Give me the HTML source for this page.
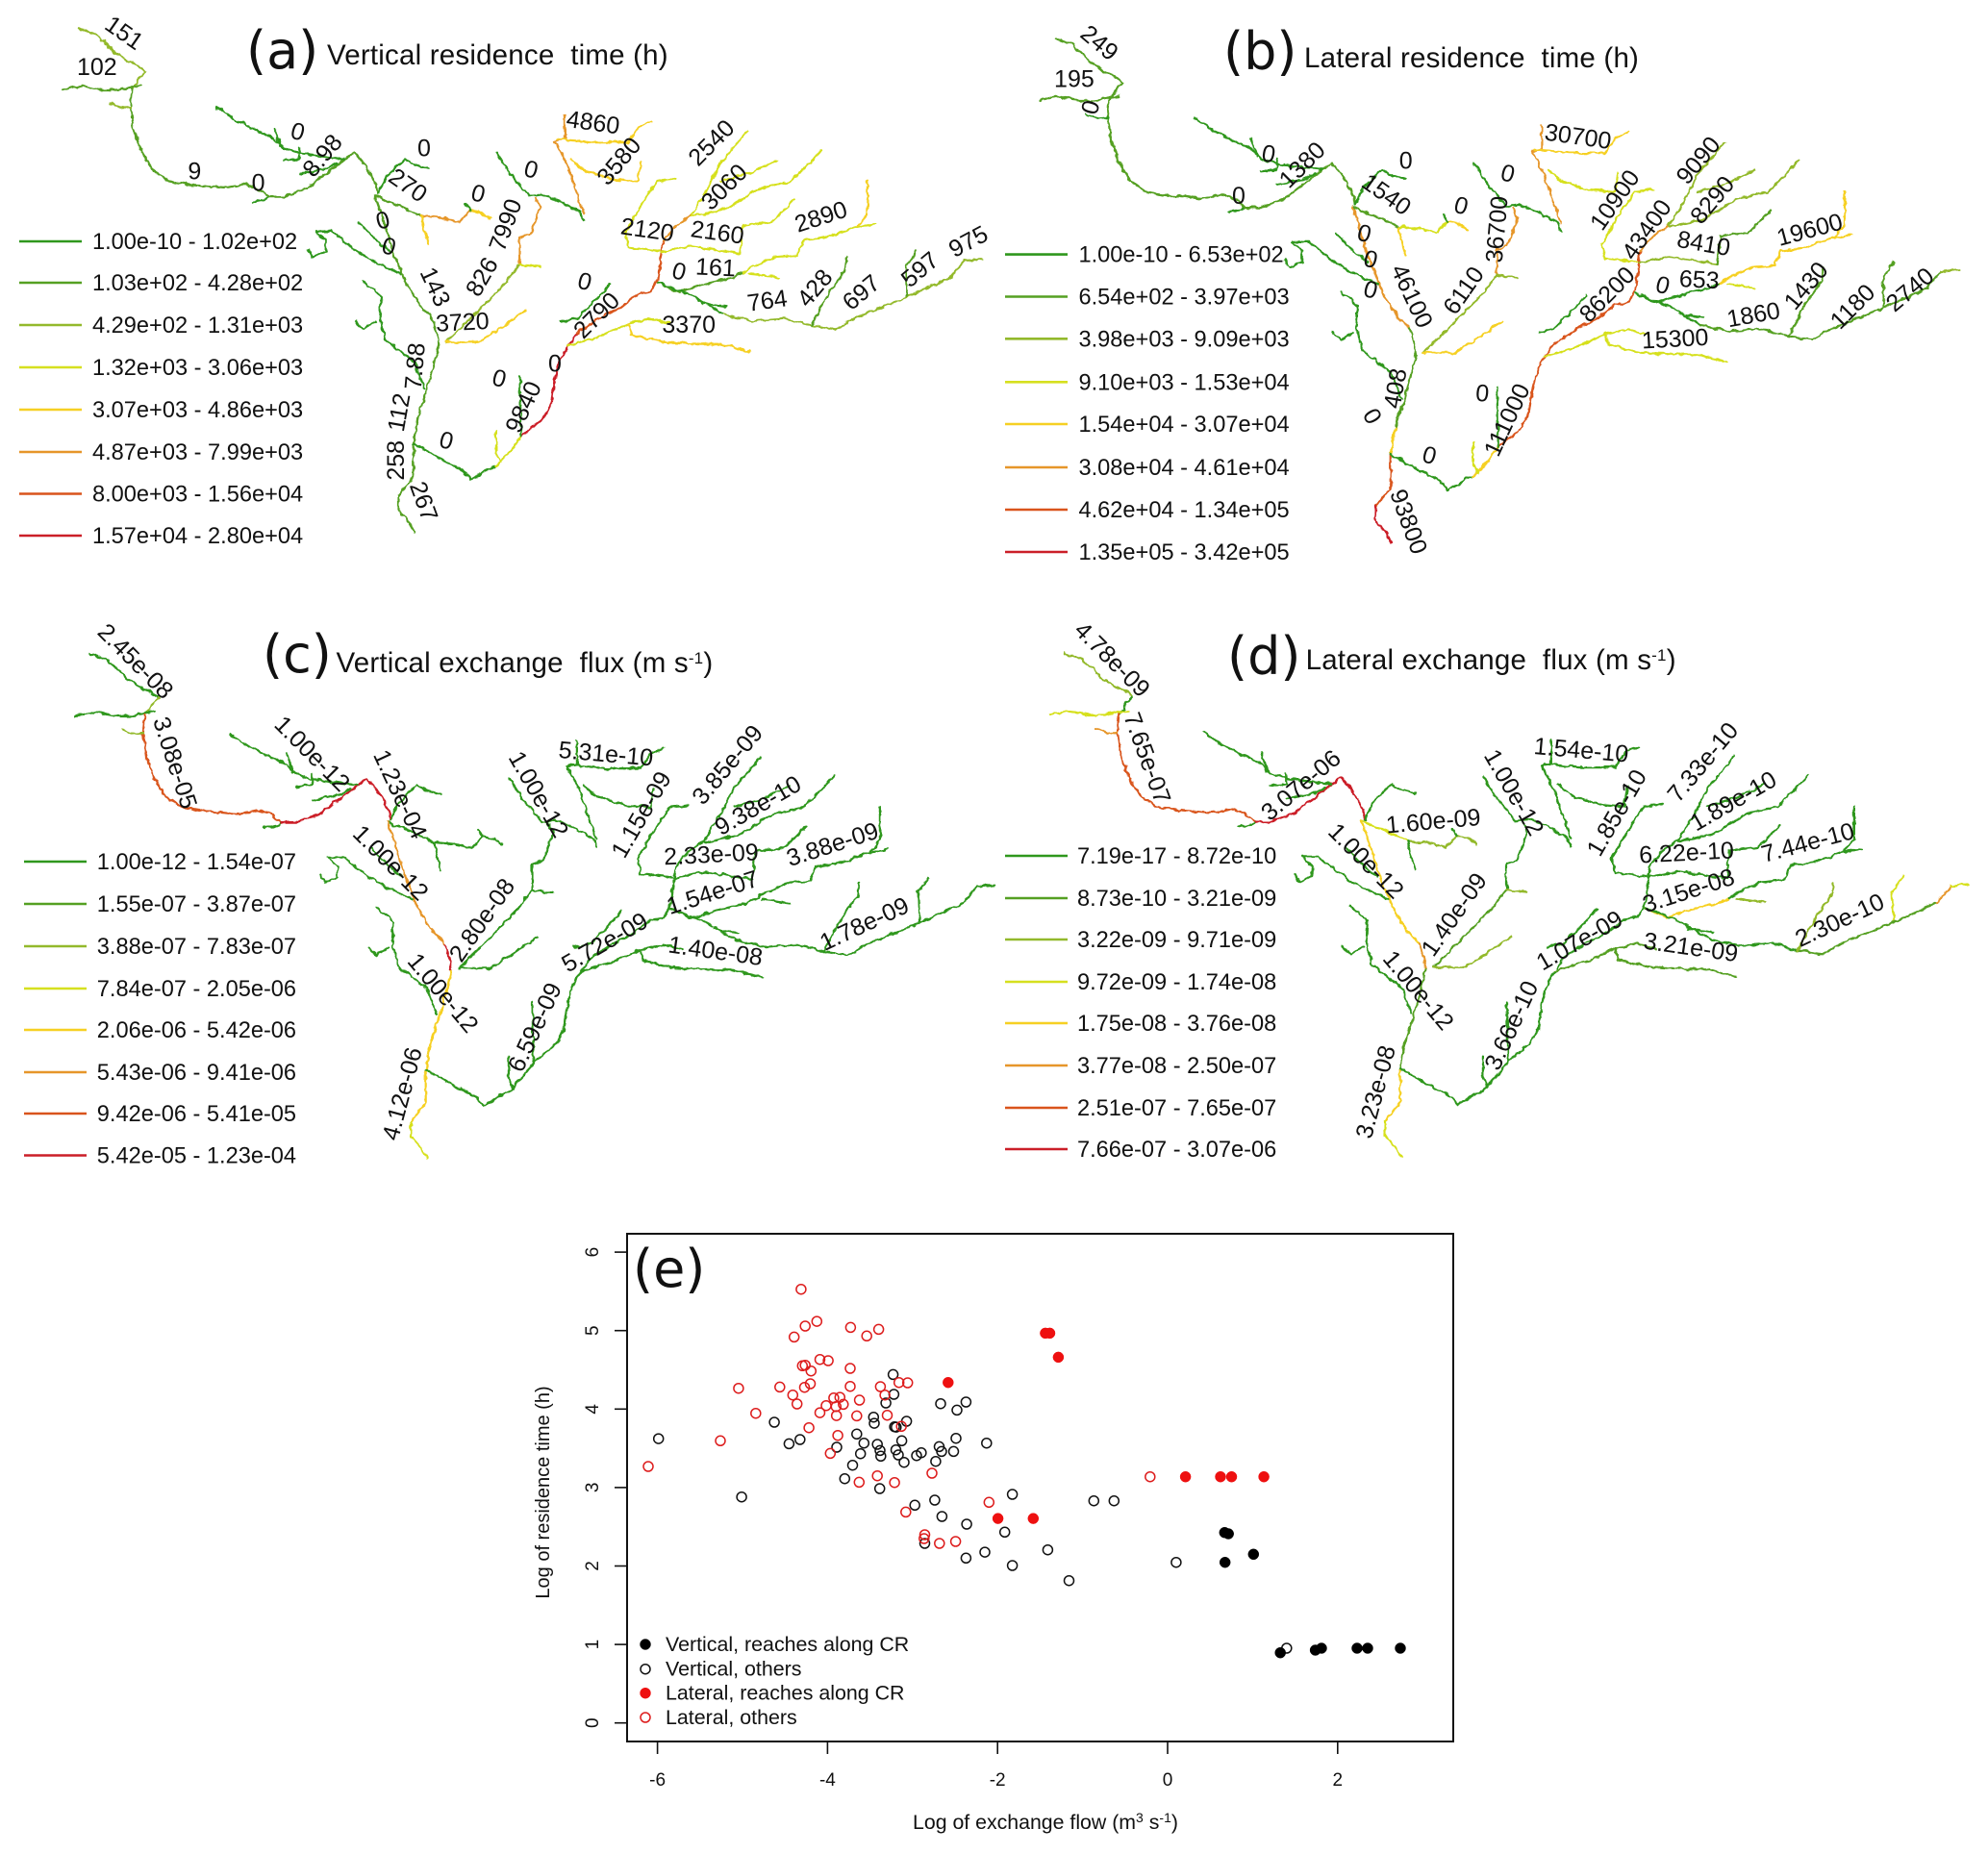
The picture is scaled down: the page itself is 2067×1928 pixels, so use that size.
<!DOCTYPE html>
<html lang="en">
<head>
<meta charset="utf-8">
<title>River network residence time and exchange flux maps</title>
<style>
html,body{margin:0;padding:0;background:#fff;}
#stage{display:block;width:2067px;height:1928px;font-family:"Liberation Sans",sans-serif;}
text{font-family:"Liberation Sans",sans-serif;fill:#111;white-space:pre;}
.big{font-family:"DejaVu Sans",sans-serif;font-size:54px;}
.title{font-size:29.5px;letter-spacing:.2px;}
.leg{font-size:23.6px;}
.lab{font-size:25px;}
.tick{font-size:19px;}
.axl{font-size:20px;}
.axx{font-size:21.3px;}
.sleg{font-size:21.4px;}
</style>
</head>
<body>
<svg id="stage" xmlns="http://www.w3.org/2000/svg" width="2067" height="1928" viewBox="0 0 2067 1928">
<defs>
<filter id="wiggle" filterUnits="userSpaceOnUse" x="0" y="0" width="2067" height="1928">
<feTurbulence type="fractalNoise" baseFrequency="0.14" numOctaves="2" seed="4" result="n"/>
<feDisplacementMap in="SourceGraphic" in2="n" scale="5" xChannelSelector="R" yChannelSelector="G"/>
</filter>
</defs>
<rect width="2067" height="1928" fill="#fff"/>
<g id="maps"></g>
<g id="scatter"></g>
</svg>
<script>
/* ---------- shared river network in crop units ---------- */
const CROP_X = 1.508, CROP_Y = 2.6;
const palette = [null,'#2f971d','#55a022','#93b92c','#d6e01f','#f6d023','#e6962a','#d9541c','#cb1f28'];

const riverSegments = [
 ['s1',[[122,75],[136,84],[150,92],[158,108],[165,115],[178,140],[195,160],[210,172],[218,180],[228,195]]],
 ['s2',[[228,195],[218,210],[215,225],[207,240]]],
 ['s3',[[98,243],[115,236],[130,232],[145,238],[160,243],[185,243],[207,235],[222,232]]],
 ['s4',[[207,240],[205,290],[210,350],[222,410],[240,460],[265,490],[300,500],[350,508],[370,503],[385,497],[405,510],[420,532]]],
 ['s4b',[[172,280],[190,292],[205,290]]],
 ['s5',[[395,545],[415,540],[420,532]]],
 ['s6',[[420,532],[445,532],[480,510],[515,465],[555,412]]],
 ['s7',[[555,412],[575,450],[590,500],[593,525]]],
 ['s8',[[340,290],[370,325],[400,350],[430,375],[445,400],[470,415],[515,425],[540,430]]],
 ['s8b',[[430,345],[440,395]]],
 ['s8c',[[445,435],[470,430],[470,400]]],
 ['s8d',[[470,470],[515,455],[530,440]]],
 ['s9',[[593,525],[605,480],[625,445],[635,430],[650,445],[672,455]]],
 ['s10',[[590,530],[600,540],[625,555],[650,575],[660,585]]],
 ['s11',[[660,585],[695,590],[720,600],[737,570]]],
 ['s12',[[737,570],[755,575],[768,592]]],
 ['s12b',[[737,570],[730,550]]],
 ['s13',[[660,585],[665,620],[672,660]]],
 ['s14',[[588,530],[600,590],[612,660],[635,760],[660,830],[678,860]]],
 ['s14b',[[678,860],[685,900],[688,930]]],
 ['s15',[[495,625],[520,625],[560,680],[590,710],[628,740]]],
 ['s15b',[[495,625],[510,650],[510,680],[490,695],[483,675]]],
 ['s16',[[562,600],[590,650],[612,680]]],
 ['s17a',[[688,930],[680,990],[668,1060],[655,1130]]],
 ['s17b',[[655,1130],[648,1200]]],
 ['s17c',[[648,1200],[648,1290],[625,1340]]],
 ['s17d',[[625,1340],[625,1380],[640,1410],[650,1440]]],
 ['s18',[[570,760],[597,800],[595,860],[605,920],[635,960],[650,980],[665,1050]]],
 ['s18b',[[558,870],[570,890],[590,870]]],
 ['s19',[[648,1200],[665,1215],[700,1250],[725,1270],[738,1297],[770,1265],[778,1260]]],
 ['s20',[[778,1260],[800,1220],[817,1180]]],
 ['s21',[[778,1165],[778,1225],[785,1250]]],
 ['s22',[[817,1180],[850,1135],[865,1090],[870,1030],[875,990],[885,950],[905,900]]],
 ['s23',[[905,900],[940,860],[975,830],[1000,795],[1020,790],[1032,755]]],
 ['s24',[[1032,755],[1038,680],[1040,650]]],
 ['s25',[[1040,650],[1060,610],[1085,580]]],
 ['s26',[[1085,580],[1110,510],[1130,440],[1150,400],[1172,355]]],
 ['s27',[[1085,585],[1140,565],[1190,510],[1240,490],[1270,440],[1288,405]]],
 ['s27b',[[1130,490],[1180,465],[1218,432]]],
 ['s28',[[1035,680],[985,670],[980,630],[1000,570],[1030,490],[1060,483]]],
 ['s29',[[1038,682],[1085,665],[1160,685]]],
 ['s30',[[1160,685],[1165,610],[1210,600],[1245,540]]],
 ['s31a',[[1100,770],[1150,750],[1165,738]]],
 ['s31',[[1165,738],[1180,720],[1215,695],[1250,690],[1260,650],[1300,640],[1340,615],[1372,605]]],
 ['s31b',[[1360,490],[1360,580],[1345,610]]],
 ['s32',[[1032,765],[1065,790],[1100,770]]],
 ['s33',[[1175,740],[1220,750]]],
 ['s34a',[[1032,765],[1080,795],[1135,850]]],
 ['s34',[[1135,850],[1180,868],[1230,860],[1272,880]]],
 ['s34b',[[1100,820],[1138,830]]],
 ['s35',[[1272,880],[1310,890],[1340,860],[1420,805],[1490,750]]],
 ['s35u',[[1490,750],[1512,705]]],
 ['s35t',[[1512,705],[1540,700]]],
 ['s36',[[1272,880],[1300,790],[1325,730],[1328,695]]],
 ['s37',[[1422,800],[1420,720],[1437,680]]],
 ['s38',[[890,935],[940,910],[985,875],[1020,862],[1050,875]]],
 ['s39',[[985,875],[990,905],[1040,925],[1100,930],[1130,930],[1175,950]]],
 ['s40',[[880,870],[905,860],[940,800],[955,770]]],
 ['s41',[[817,1180],[815,1020]]],
 ['s42',[[885,310],[885,375],[870,380],[888,440],[900,500],[915,575]]],
 ['s43',[[873,375],[930,385],[985,385],[1000,345],[1022,328]]],
 ['s44',[[895,430],[915,460],[960,485],[1000,490],[1005,440]]],
 ['s45',[[778,410],[800,470],[830,530],[850,525],[880,545],[910,575],[915,597]]],
 ['s46',[[840,535],[848,560],[835,620],[832,635],[815,645],[815,715]]],
 ['s47',[[815,715],[790,770],[750,840],[700,925]]],
 ['s47b',[[815,715],[847,722]]],
 ['s48',[[700,925],[750,925],[790,880],[823,840]]]
];

/* class index per reach, one table per map; reaches not listed use class 1 */
const reachClassA = {s1:3,s2:3,s3:2,s4:2,s4b:3,s6:2,s7:2,s10:2,s11:6,s12:5,s13:5,s14:2,s14b:2,s17a:2,s17b:2,s17c:2,s17d:2,s20:4,s21:4,s22:8,s23:7,s24:7,s25:6,s26:4,s27:4,s27b:4,s28:4,s29:4,s30:4,s31a:2,s31:4,s31b:5,s32:2,s33:4,s34:3,s35:3,s35u:3,s35t:3,s36:2,s37:2,s38:4,s39:5,s42:6,s43:5,s44:5,s46:6,s47:3,s47b:4,s48:5};
const reachClassB = {s1:2,s2:2,s3:2,s4:2,s6:2,s7:2,s10:2,s11:4,s12:5,s13:5,s14:6,s14b:2,s17a:2,s17b:5,s17c:7,s17d:8,s20:5,s21:4,s22:7,s23:7,s24:7,s25:6,s26:3,s27:3,s27b:3,s28:4,s29:3,s30:2,s31:5,s31b:5,s33:4,s34:2,s35:2,s35u:2,s35t:3,s36:2,s37:2,s38:4,s39:4,s42:6,s43:5,s44:4,s46:6,s47:3,s47b:3,s48:5};
const reachClassC = {s2:3,s4:7,s4b:3,s6:8,s7:8,s14:6,s14b:8,s17a:5,s17b:5,s17c:5,s17d:4};
const reachClassD = {s1:3,s3:4,s4:7,s4b:6,s6:8,s7:8,s10:4,s11:3,s12:3,s14:5,s14b:6,s17a:2,s17b:2,s17c:5,s17d:4,s31a:5,s32:5,s33:3,s35:2,s35u:6,s35t:4,s36:3,s37:4,s38:2,s39:2,s47:2,s47b:3,s48:3};

/* legend class breaks */
const legendA = ['1.00e-10 - 1.02e+02','1.03e+02 - 4.28e+02','4.29e+02 - 1.31e+03','1.32e+03 - 3.06e+03','3.07e+03 - 4.86e+03','4.87e+03 - 7.99e+03','8.00e+03 - 1.56e+04','1.57e+04 - 2.80e+04'];
const legendB = ['1.00e-10 - 6.53e+02','6.54e+02 - 3.97e+03','3.98e+03 - 9.09e+03','9.10e+03 - 1.53e+04','1.54e+04 - 3.07e+04','3.08e+04 - 4.61e+04','4.62e+04 - 1.34e+05','1.35e+05 - 3.42e+05'];
const legendC = ['1.00e-12 - 1.54e-07','1.55e-07 - 3.87e-07','3.88e-07 - 7.83e-07','7.84e-07 - 2.05e-06','2.06e-06 - 5.42e-06','5.43e-06 - 9.41e-06','9.42e-06 - 5.41e-05','5.42e-05 - 1.23e-04'];
const legendD = ['7.19e-17 - 8.72e-10','8.73e-10 - 3.21e-09','3.22e-09 - 9.71e-09','9.72e-09 - 1.74e-08','1.75e-08 - 3.76e-08','3.77e-08 - 2.50e-07','2.51e-07 - 7.65e-07','7.66e-07 - 3.07e-06'];

/* printed reach labels: text, centre (crop units), rotation */
const labelsA = [['151',195,88,35],['102',152,180,0],['9',305,462,0],['0',405,493,0],['0',467,355,15],['8.98',505,420,-50],['0',665,400,0],['270',640,500,35],['0',750,522,15],['0',600,595,-15],['0',610,665,15],['143',683,775,65],['826',755,748,-60],['7990',792,608,-70],['3720',725,870,-3],['7.88',650,990,-85],['112',625,1115,-80],['258',620,1245,-90],['267',665,1355,70],['0',700,1190,15],['9840',820,1100,-65],['0',783,1022,15],['0',870,982,0],['2790',935,852,-45],['0',917,760,15],['0',833,457,15],['4860',930,330,8],['3580',970,435,-50],['2540',1115,385,-45],['3060',1135,505,-45],['2120',1015,620,8],['2160',1125,627,8],['2890',1287,585,-18],['0',1065,733,15],['161',1122,722,3],['764',1203,812,-8],['428',1277,778,-50],['697',1350,790,-40],['597',1442,728,-40],['975',1518,652,-28],['3370',1080,877,0]];
const labelsB = [['249',165,115,40],['195',125,212,0],['0',150,290,-75],['0',430,415,10],['1380',482,445,-45],['0',383,528,0],['0',645,433,0],['1540',615,525,35],['0',732,555,15],['0',805,468,15],['36700',787,620,-85],['6110',735,785,-55],['46100',655,800,65],['0',580,630,15],['0',590,700,15],['0',590,782,15],['408',628,1050,-80],['0',593,1125,60],['0',682,1230,15],['0',765,1062,5],['111000',803,1135,-65],['30700',915,368,8],['10900',972,540,-55],['43400',1022,620,-55],['9090',1103,433,-50],['8290',1125,540,-50],['8410',1112,657,10],['19600',1278,620,-15],['86200',960,795,-45],['0',1048,770,15],['653',1105,755,3],['1860',1190,850,-10],['1430',1272,772,-50],['1180',1345,828,-45],['2740',1435,782,-40],['15300',1067,915,-3],['93800',650,1410,70]];
const labelsC = [['2.45e-08',213,175,45],['3.08e-05',275,450,72],['1.00e-12',490,425,45],['1.23e-04',628,535,65],['1.00e-12',613,720,45],['2.80e-08',755,875,-55],['1.00e-12',695,1072,50],['4.12e-06',630,1345,-75],['6.59e-09',838,1165,-65],['5.72e-09',948,935,-30],['1.40e-08',1122,958,8],['1.78e-09',1355,885,-25],['1.54e-07',1117,800,-18],['2.33e-09',1115,697,-3],['3.88e-09',1305,670,-18],['9.38e-10',1188,565,-30],['3.85e-09',1140,455,-50],['1.15e-09',1005,590,-60],['1.00e-12',845,535,60],['5.31e-10',950,425,5]];
const labelsD = [['4.78e-09',185,170,45],['7.65e-07',240,437,70],['3.07e-06',480,510,-40],['1.60e-09',688,607,-5],['1.00e-12',583,715,45],['1.40e-09',720,860,-55],['1.00e-12',665,1065,50],['3.23e-08',597,1340,-75],['3.66e-10',810,1160,-65],['1.07e-09',917,930,-30],['3.21e-09',1092,948,8],['2.30e-10',1325,875,-25],['3.15e-08',1088,795,-18],['6.22e-10',1085,692,-3],['7.44e-10',1275,665,-15],['1.89e-10',1158,553,-30],['7.33e-10',1110,448,-50],['1.85e-10',975,585,-60],['1.00e-12',815,530,60],['1.54e-10',920,415,5]];

/* legend row centres (y) */
const rowsA = [251,294,338,382,426,470,513.5,557];
const rowsB = [264.6,308.5,352.3,397.3,441,486,530,574];
const rowsC = [896,940,984,1028,1071,1115,1158,1201.5];
const rowsD = [890,934,977,1021,1064,1108,1152,1195];

/* ---------- scatter (e): log exchange flow, log residence time ---------- */
const lateralOthersX = [-4.311,-4.125,-4.262,-4.392,-3.729,-3.539,-3.398,-4.089,-3.992,-3.733,-4.295,-4.262,-4.194,-3.159,-3.058,-3.378,-3.733,-4.202,-4.270,-4.561,-5.046,-4.408,-4.359,-3.927,-3.854,-4.016,-3.899,-3.814,-3.624,-3.325,-4.844,-4.089,-3.895,-3.656,-3.297,-4.218,-3.131,-3.879,-5.26,-3.967,-6.109,-2.771,-3.414,-3.628,-3.212,-2.101,-3.079,-2.856,-2.864,-2.683,-2.493,-0.206];
const lateralOthersY = [5.527,5.118,5.057,4.918,5.041,4.931,5.016,4.632,4.616,4.518,4.551,4.559,4.485,4.338,4.334,4.285,4.289,4.322,4.277,4.281,4.265,4.179,4.065,4.142,4.150,4.044,4.032,4.060,4.114,4.179,3.946,3.954,3.917,3.913,3.922,3.762,3.779,3.664,3.595,3.435,3.268,3.182,3.150,3.068,3.064,2.811,2.688,2.398,2.349,2.288,2.312,3.137];
const verticalOthersX = [-5.988,-5.010,-4.626,-4.452,-4.323,-3.891,-3.656,-3.571,-3.612,-3.705,-3.798,-3.386,-3.458,-3.450,-3.228,-3.220,-3.313,-2.670,-2.477,-2.371,-3.070,-3.212,-3.192,-3.127,-3.414,-3.382,-3.196,-3.373,-3.167,-3.099,-2.953,-2.897,-2.687,-2.658,-2.517,-2.489,-2.727,-2.129,-2.973,-2.739,-2.654,-2.363,-1.826,-1.915,-2.856,-2.371,-2.149,-1.826,-1.410,-0.868,-0.630,-1.159,0.101,1.40];
const verticalOthersY = [3.623,2.880,3.832,3.558,3.611,3.513,3.681,3.566,3.431,3.284,3.113,2.986,3.897,3.819,4.440,4.187,4.077,4.069,3.987,4.089,3.844,3.775,3.770,3.595,3.550,3.472,3.480,3.399,3.415,3.321,3.407,3.444,3.521,3.460,3.460,3.627,3.333,3.566,2.774,2.839,2.631,2.533,2.913,2.431,2.288,2.100,2.177,2.006,2.206,2.831,2.831,1.814,2.047,0.952];
const lateralCrX = [-2.582,-1.996,-1.580,-1.438,-1.386,-1.285,0.210,0.622,0.752,1.132];
const lateralCrY = [4.338,2.606,2.606,4.967,4.967,4.661,3.137,3.137,3.137,3.137];
const verticalCrX = [0.671,0.715,1.010,0.675,1.326,1.737,1.81,2.228,2.353,2.738];
const verticalCrY = [2.426,2.410,2.149,2.047,0.895,0.928,0.952,0.952,0.952,0.952];
const xTicks = [-6,-4,-2,0,2];
const yTicks = [0,1,2,3,4,5,6];
const scatterLegend = ['Vertical, reaches along CR','Vertical, others','Lateral, reaches along CR','Lateral, others'];

const NS = 'http://www.w3.org/2000/svg';
function mk(parent, tag, attrs, txt){
  const e = document.createElementNS(NS, tag);
  for (const k in attrs) e.setAttribute(k, attrs[k]);
  if (txt !== undefined) e.textContent = txt;
  parent.appendChild(e);
  return e;
}

const panels = [
 {key:'a',cls:reachClassA,legend:legendA,rows:rowsA,labels:labelsA,dx:0,dy:0,ox:0,oy:0,lineX:20,textX:96,letter:'(a)',lx:256,ly:71,title:'Vertical residence  time (h)',tx:340,ty:67},
 {key:'b',cls:reachClassB,legend:legendB,rows:rowsB,labels:labelsB,dx:1016,dy:11,ox:1034,oy:0,lineX:1045,textX:1121.5,letter:'(b)',lx:1272,ly:72,title:'Lateral residence  time (h)',tx:1356,ty:70},
 {key:'c',cls:reachClassC,legend:legendC,rows:rowsC,labels:labelsC,dx:13,dy:651,ox:0,oy:620,lineX:25,textX:100.8,letter:'(c)',lx:273,ly:699,title:'Vertical exchange  flux (m s',tx:349.5,ty:699,sup:true},
 {key:'d',cls:reachClassD,legend:legendD,rows:rowsD,labels:labelsD,dx:1026,dy:650,ox:1034,oy:620,lineX:1045,textX:1120,letter:'(d)',lx:1276,ly:701,title:'Lateral exchange  flux (m s',tx:1357.6,ty:696,sup:true}
];

const maps = document.getElementById('maps');
panels.forEach(function(p){
  const g = mk(maps,'g',{});
  
  

  const net = mk(g,'g',{filter:'url(#wiggle)'});
  
  
  riverSegments.forEach(function(seg){
    const pts = seg[1].map(function(q){ return (q[0]/CROP_X + p.dx).toFixed(1) + ',' + (q[1]/CROP_Y + p.dy).toFixed(1); }).join(' ');
    const c = palette[p.cls[seg[0]] || 1];
    const line = mk(net,'polyline',{points:pts,fill:'none',stroke:c,'stroke-width':2.2,'stroke-linejoin':'round','stroke-linecap':'round'});
    
    
  });

  p.labels.forEach(function(l){
    const x = p.ox + l[1]/CROP_X, y = p.oy + l[2]/CROP_Y;
    const t = mk(g,'text',{class:'lab','text-anchor':'middle',x:0,y:0,dy:'.35em',transform:'translate('+x.toFixed(1)+' '+y.toFixed(1)+') rotate('+l[3]+')'},l[0]);
    
    
  });

  p.legend.forEach(function(txt,i){
    const row = mk(g,'g',{});
    
    
    mk(row,'line',{x1:p.lineX,x2:p.lineX+65,y1:p.rows[i],y2:p.rows[i],stroke:palette[i+1],'stroke-width':2.6});
    mk(row,'text',{class:'leg',x:p.textX,y:p.rows[i]+8},txt);
  });

  const letter = mk(g,'text',{class:'big',x:p.lx,y:p.ly},p.letter);
  
  

  const title = mk(g,'text',{class:'title',x:p.tx,y:p.ty},p.title);
  
  
  if (p.sup){
    mk(title,'tspan',{dy:-9,'font-size':'17'},'-1');
    mk(title,'tspan',{dy:9},')');
  }
});

/* axis functions for scatter */
const sx = function(v){ return 1214 + v*88.4; };
const sy = function(v){ return 1791.7 - v*81.6; };
const sc = document.getElementById('scatter');

const box = mk(sc,'rect',{x:652,y:1283,width:859,height:528,fill:'none',stroke:'#111','stroke-width':2});



xTicks.forEach(function(v){
  const g = mk(sc,'g',{});
  
  
  mk(g,'line',{x1:sx(v),x2:sx(v),y1:1811,y2:1824,stroke:'#111','stroke-width':1.6});
  mk(g,'text',{class:'tick','text-anchor':'middle',x:sx(v),y:1857},String(v));
});
yTicks.forEach(function(v){
  const g = mk(sc,'g',{});
  
  
  mk(g,'line',{x1:639,x2:652,y1:sy(v),y2:sy(v),stroke:'#111','stroke-width':1.6});
  mk(g,'text',{class:'tick','text-anchor':'middle',transform:'translate(622 '+sy(v)+') rotate(-90)'},String(v));
});

const xTitle = mk(sc,'text',{class:'axx',x:949,y:1902});


xTitle.appendChild(document.createTextNode('Log of exchange flow (m'));
mk(xTitle,'tspan',{dy:-7,'font-size':'14'},'3');
mk(xTitle,'tspan',{dy:7},' s');
mk(xTitle,'tspan',{dy:-7,'font-size':'14'},'-1');
mk(xTitle,'tspan',{dy:7},')');

const yTitle = mk(sc,'text',{class:'axl','text-anchor':'middle',transform:'translate(571 1552) rotate(-90)'},'Log of residence time (h)');



const eLabel = mk(sc,'text',{class:'big',x:658,y:1338},'(e)');



function drawPoints(xs, ys, color, filled, name){
  xs.forEach(function(v,i){
    const c = mk(sc,'circle',{cx:sx(v).toFixed(1),cy:sy(ys[i]).toFixed(1),r:filled?5.5:5,fill:filled?color:'none',stroke:color,'stroke-width':filled?0.5:1.5});
    
    
  });
}
drawPoints(verticalOthersX, verticalOthersY, '#111', false, 'point-vertical-others');
drawPoints(lateralOthersX, lateralOthersY, '#dd1c1c', false, 'point-lateral-others');
drawPoints(verticalCrX, verticalCrY, '#000', true, 'point-vertical-cr');
drawPoints(lateralCrX, lateralCrY, '#ee1010', true, 'point-lateral-cr');

const legendColors = ['#000','#111','#ee1010','#dd1c1c'];
const legendFilled = [true,false,true,false];
const legendRowY = [1710,1735.7,1760.7,1786];
scatterLegend.forEach(function(txt,i){
  const g = mk(sc,'g',{});
  
  
  mk(g,'circle',{cx:671,cy:legendRowY[i],r:legendFilled[i]?5.5:5,fill:legendFilled[i]?legendColors[i]:'none',stroke:legendColors[i],'stroke-width':legendFilled[i]?0.5:1.5});
  mk(g,'text',{class:'sleg',x:692,y:legendRowY[i]+7},txt);
});
</script>
</body>
</html>
